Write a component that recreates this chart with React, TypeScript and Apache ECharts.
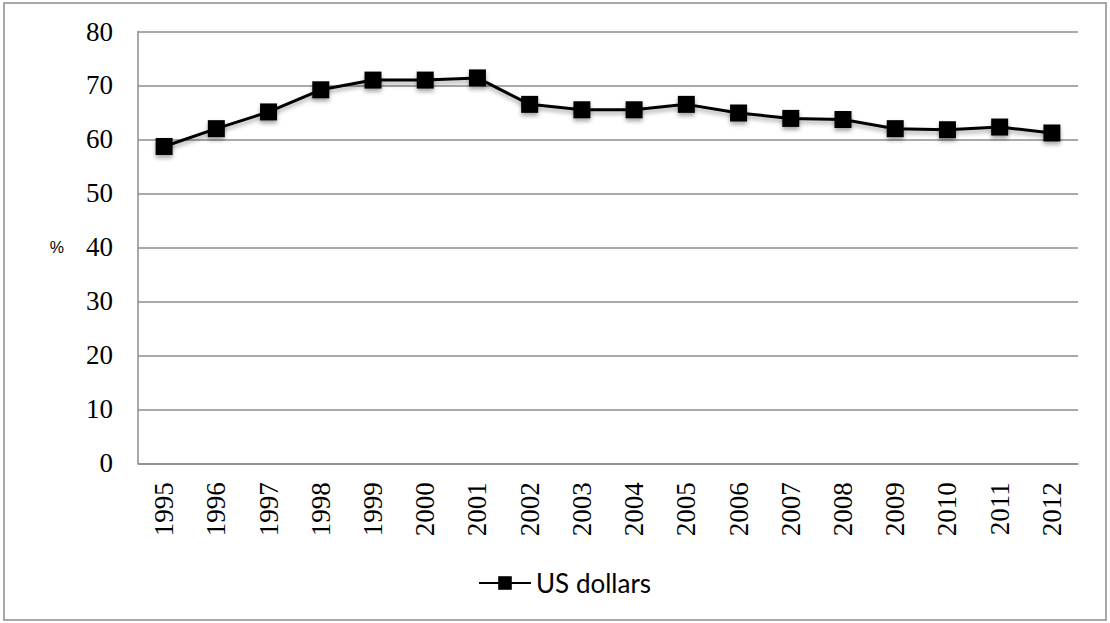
import React, { useEffect, useRef } from "react";
import * as echarts from "echarts";

const years = ["1995","1996","1997","1998","1999","2000","2001","2002","2003","2004","2005","2006","2007","2008","2009","2010","2011","2012"];
const usDollars = [58.7, 62.0, 65.1, 69.2, 71.0, 71.0, 71.4, 66.5, 65.5, 65.5, 66.5, 64.9, 63.9, 63.7, 62.0, 61.8, 62.3, 61.2];
const seriesName = "US dollars";
const yAxisTitle = "%";

export default function App() {
  const ref = useRef<HTMLDivElement>(null);
  useEffect(() => {
    if (!ref.current) return;
    const chart = echarts.init(ref.current, undefined, { renderer: "svg" });
    chart.setOption({
      animation: false,
      backgroundColor: "#ffffff",
      graphic: [
        {
          type: "rect",
          shape: { x: 4, y: 3, width: 1102, height: 617 },
          style: { fill: "none", stroke: "#8c8c8c", lineWidth: 1.5 },
          silent: true,
        },
      ],
      grid: { left: 138, right: 32, top: 31.5, bottom: 159.7 },
      legend: {
        left: 473,
        top: 565,
        itemWidth: 52,
        itemHeight: 17,
        itemGap: 10,
        textStyle: { fontFamily: "Lato", fontSize: 26, color: "#000" },
        data: [seriesName],
      },
      xAxis: {
        type: "category",
        data: years,
        boundaryGap: true,
        axisLine: { show: true, lineStyle: { color: "#8c8c8c", width: 1.5 } },
        axisTick: { show: false },
        axisLabel: {
          rotate: 90,
          margin: 19,
          fontFamily: "Liberation Serif",
          fontSize: 27,
          color: "#000",
          interval: 0,
        },
      },
      yAxis: {
        type: "value",
        min: 0,
        max: 80,
        interval: 10,
        name: yAxisTitle,
        nameLocation: "middle",
        nameRotate: 0,
        nameGap: 74,
        nameTextStyle: { fontFamily: "Liberation Sans", fontSize: 16, color: "#000", padding: [6, 0, 0, 0] },
        axisLine: { show: true, lineStyle: { color: "#8c8c8c", width: 1.5 } },
        axisTick: { show: false },
        splitLine: { show: true, lineStyle: { color: "#8c8c8c", width: 1.5 } },
        axisLabel: {
          margin: 25,
          fontFamily: "Liberation Serif",
          fontSize: 27,
          color: "#000",
        },
      },
      series: [
        {
          name: seriesName,
          type: "line",
          data: usDollars,
          symbol: "rect",
          symbolSize: 17,
          lineStyle: {
            color: "#000",
            width: 3,
            shadowColor: "rgba(0,0,0,0.35)",
            shadowBlur: 4,
            shadowOffsetY: 3,
          },
          itemStyle: {
            color: "#000",
            borderColor: "#000",
            borderWidth: 0,
            shadowColor: "rgba(0,0,0,0.35)",
            shadowBlur: 4,
            shadowOffsetY: 3,
          },
        },
      ],
    });
    return () => chart.dispose();
  }, []);
  return (
    <div
      ref={ref}
      style={{ position: "fixed", left: 0, top: 0, width: 1110, height: 623 }}
    />
  );
}
